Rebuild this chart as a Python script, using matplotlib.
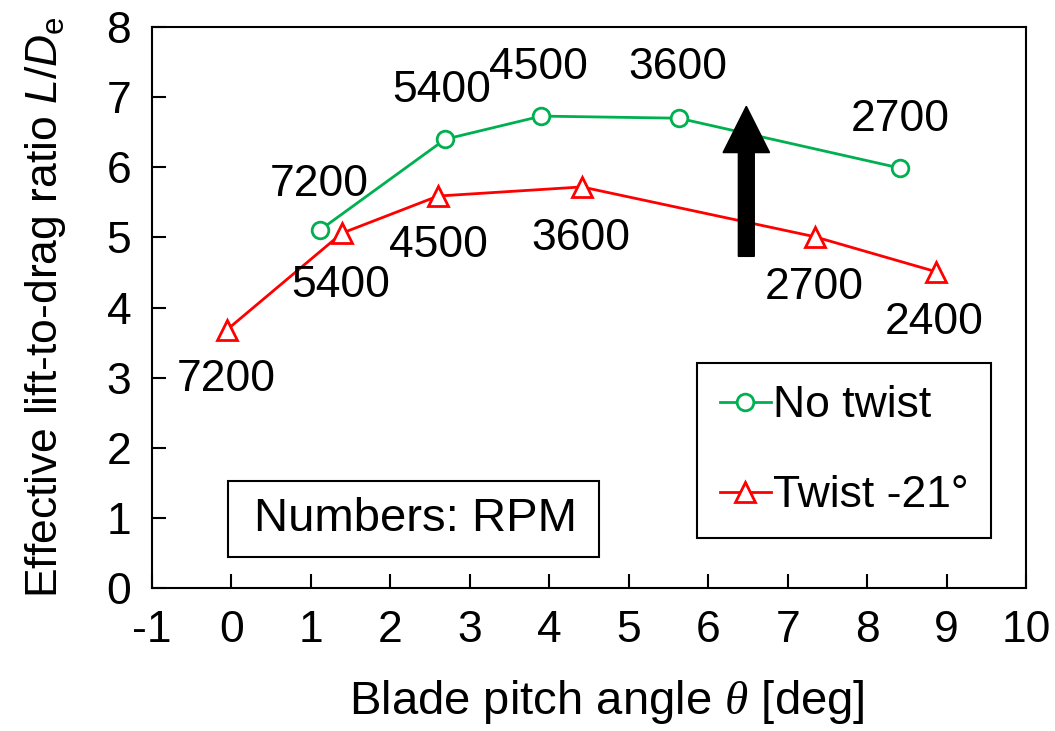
import numpy as np
import matplotlib
matplotlib.use('Agg')
import matplotlib.pyplot as plt
from matplotlib.patches import Rectangle

matplotlib.rcParams.update({'font.size': 32, 'font.family': 'Liberation Sans',
                            'axes.unicode_minus': False,
                            'mathtext.fontset': 'custom',
                            'mathtext.rm': 'Liberation Sans',
                            'mathtext.it': 'Liberation Sans:italic',
                            'mathtext.bf': 'Liberation Serif:italic'})

# No twist (green circles)
pitch_nt = [1.12, 2.69, 3.90, 5.63, 8.41]
ld_nt = [5.11, 6.40, 6.73, 6.70, 5.99]
rpm_nt = ['7200', '5400', '4500', '3600', '2700']
lab_nt = [(1.10, 5.75), (2.64, 7.10), (3.86, 7.42), (5.62, 7.42), (8.42, 6.68)]

# Twist -21 deg (red triangles)
pitch_tw = [-0.06, 1.39, 2.60, 4.41, 7.34, 8.87]
ld_tw = [3.68, 5.06, 5.59, 5.72, 5.01, 4.51]
rpm_tw = ['7200', '5400', '4500', '3600', '2700', '2400']
lab_tw = [(-0.06, 2.97), (1.37, 4.32), (2.60, 4.89), (4.40, 4.99), (7.34, 4.29), (8.85, 3.79)]

green = '#00B050'
red = '#FF0000'

fig = plt.figure(figsize=(10.55, 7.31), dpi=100)
ax = fig.add_axes([0.1441, 0.1956, 0.8284, 0.7674])

ax.plot(pitch_nt, ld_nt, '-o', color=green, lw=2, ms=12, mfc='white', mew=2, label='No twist')
ax.plot(pitch_tw, ld_tw, '-^', color=red, lw=2, ms=15, mfc='white', mew=2, label='Twist -21°')

for t, (x, y) in zip(rpm_nt, lab_nt):
    ax.text(x, y, t, ha='center', va='center')
for t, (x, y) in zip(rpm_tw, lab_tw):
    ax.text(x, y, t, ha='center', va='center')

# big arrow (improvement from twist)
ax.arrow(6.48, 4.73, 0, 2.14, width=0.2, head_width=0.585, head_length=0.66,
         length_includes_head=True, color='black', zorder=5)

# note box
ax.add_patch(Rectangle((-0.05, 0.44), 4.68, 1.09, fc='white', ec='black', lw=1.5, zorder=3))
ax.text(2.32, 0.98, 'Numbers: RPM', ha='center', va='center', fontsize=34, zorder=4)

leg = ax.legend(loc='upper left', bbox_to_anchor=(0.624, 0.401), fancybox=False,
                edgecolor='black', framealpha=1, handlelength=1.15, handletextpad=0.05,
                labelspacing=1.1, borderpad=0.5, borderaxespad=0)
leg.get_frame().set_linewidth(1.5)

ax.set_xlim(-1, 10)
ax.set_ylim(0, 8)
ax.set_xticks(range(-1, 11))
ax.set_yticks(range(0, 9))
ax.tick_params(direction='in', length=10, width=1.5)
ax.tick_params(axis='x', pad=16)
ax.tick_params(axis='y', pad=15)
for s in ax.spines.values():
    s.set_linewidth(1.5)

ax.set_xlabel('Blade pitch angle $\\mathbf{\\theta}$ [deg]', fontsize=34)
ax.xaxis.set_label_coords(0.52, -0.16)
ax.set_ylabel('Effective lift-to-drag ratio $L/D_\\mathrm{e}$', labelpad=28)

plt.savefig('out.png', dpi=100)
